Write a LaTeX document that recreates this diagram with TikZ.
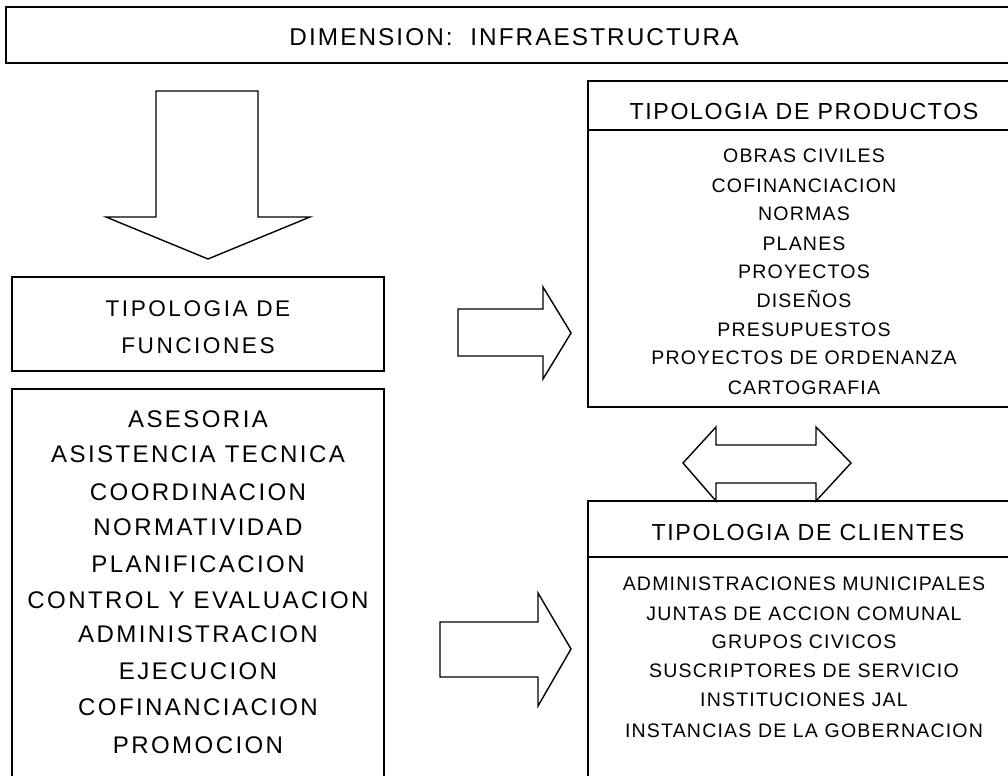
\documentclass[tikz,border=0pt]{standalone}
\usepackage{fontspec}
\setmainfont{Liberation Sans}
\begin{document}
\begin{tikzpicture}[x=0.025cm, y=-0.025cm, line width=1pt, line join=miter,
	frame/.style={draw, line width=1pt},
	blockarrow/.style={draw, line width=1pt, fill=white},
	titletext/.style={anchor=base, inner sep=0pt, font=\fontsize{17.3}{20}\selectfont\addfontfeature{LetterSpace=8.5}},
	headtext/.style={anchor=base, inner sep=0pt, font=\fontsize{16.5}{20}\selectfont\addfontfeature{LetterSpace=7}},
	functext/.style={anchor=base, inner sep=0pt, font=\fontsize{16.1}{20}\selectfont\addfontfeature{LetterSpace=11}},
	listtext/.style={anchor=base, inner sep=0pt, font=\fontsize{17.1}{20}\selectfont\addfontfeature{LetterSpace=10}},
	itemtext/.style={anchor=base, inner sep=0pt, font=\fontsize{13.9}{16}\selectfont\addfontfeature{LetterSpace=6}}]
	\clip (0,0) rectangle (1008,776);
	% cajas
	\draw[frame] (6,7) rectangle (1020,63);
	\draw[frame] (12,277) rectangle (384,371);
	\draw[frame] (12,389) rectangle (384,800);
	\draw[frame] (588,81) rectangle (1020,407);
	\draw[frame] (588,130) -- (1020,130);
	\draw[frame] (588,501) rectangle (1020,800);
	\draw[frame] (588,557) -- (1020,557);
	% flechas
	\draw[blockarrow] (156,91) -- (258,91) -- (258,217) -- (310,217) -- (208,259) -- (106,217) -- (156,217) -- cycle;
	\draw[blockarrow] (458,309) -- (543,309) -- (543,287) -- (571,333) -- (543,379) -- (543,356) -- (458,356) -- cycle;
	\draw[blockarrow] (440,622) -- (538,622) -- (538,593) -- (571,649) -- (538,706) -- (538,677) -- (440,677) -- cycle;
	\draw[blockarrow] (683,463) -- (716,427) -- (716,445) -- (816,445) -- (816,427) -- (851,463) -- (816,501) -- (816,483) -- (716,483) -- (716,501) -- cycle;
	% textos
	\node[titletext] (dimension) at (514,46) {DIMENSION:\ \ INFRAESTRUCTURA};
	\node[functext] (tipfun1) at (198,316) {TIPOLOGIA DE};
	\node[functext] (tipfun2) at (198,353) {FUNCIONES};
	\node[headtext] (tipprod) at (804,119) {TIPOLOGIA DE PRODUCTOS};
	\node[headtext] (tipcli) at (808,540) {TIPOLOGIA DE CLIENTES};
	\foreach \t/\yy [count=\i] in {ASESORIA/427, ASISTENCIA TECNICA/462, COORDINACION/500, NORMATIVIDAD/535,
		PLANIFICACION/572, CONTROL Y EVALUACION/608, ADMINISTRACION/642, EJECUCION/679,
		COFINANCIACION/715, PROMOCION/753}
		\node[listtext] (fun\i) at (198,\yy) {\t};
	\foreach \t/\yy [count=\i] in {OBRAS CIVILES/162, COFINANCIACION/192, NORMAS/220, PLANES/250,
		PROYECTOS/278, DISEÑOS/307, PRESUPUESTOS/336, PROYECTOS DE ORDENANZA/364, CARTOGRAFIA/394}
		\node[itemtext] (prod\i) at (804,\yy) {\t};
	\foreach \t/\yy [count=\i] in {ADMINISTRACIONES MUNICIPALES/590, JUNTAS DE ACCION COMUNAL/620,
		GRUPOS CIVICOS/648, SUSCRIPTORES DE SERVICIO/677, INSTITUCIONES JAL/706,
		INSTANCIAS DE LA GOBERNACION/737}
		\node[itemtext] (cli\i) at (804,\yy) {\t};
\end{tikzpicture}
\end{document}
